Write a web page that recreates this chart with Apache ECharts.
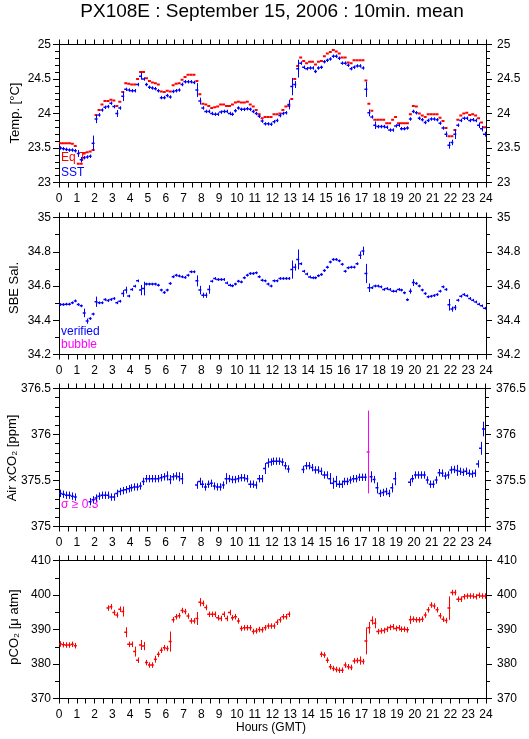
<!DOCTYPE html>
<html><head><meta charset="utf-8">
<script src="https://cdn.jsdelivr.net/npm/echarts@6/dist/echarts.min.js"></script>
<style>html,body{margin:0;padding:0;background:#fff}#c{width:529px;height:739px}</style>
</head><body><div id="c"></div>
<script>
// ---- DATA (10-minute means, index i covers hour i/6 .. (i+1)/6) ----
var hourTicks = [0,1,2,3,4,5,6,7,8,9,10,11,12,13,14,15,16,17,18,19,20,21,22,23,24];

var eqT = [
 23.57,23.57,23.57,23.57,23.56,23.53, 23.27,23.27,23.42,23.44,23.45,23.47,
 23.98,24.05,24.13,24.18,24.18,24.20, 24.19,24.11,24.17,24.31,24.44,24.43,
 24.42,24.42,24.50,24.60,24.60,24.51, 24.47,24.45,24.44,24.42,24.32,24.31,
 24.33,24.32,24.41,24.43,24.44,24.49, 24.53,24.56,24.56,24.56,24.47,24.28,
 24.14,24.13,24.11,24.08,24.09,24.10, 24.13,24.13,24.11,24.11,24.13,24.16,
 24.17,24.16,24.16,24.17,24.13,24.10, 24.05,23.99,23.93,23.95,23.95,23.95,
 23.99,23.99,24.00,24.05,24.10,24.11, 24.21,24.50,24.69,24.81,24.76,24.73,
 24.75,24.75,24.71,24.75,24.76,24.83, 24.87,24.89,24.92,24.90,24.87,24.81,
 24.81,24.74,24.73,24.77,24.77,24.77, 24.77,24.48,24.14,24.04,23.91,23.91,
 23.91,23.91,23.86,23.86,23.91,23.95, 23.86,23.86,23.86,23.86,23.99,24.11,
 24.10,24.00,23.97,23.95,23.99,23.99, 23.99,23.99,23.94,23.89,23.79,23.67,
 23.67,23.76,23.91,23.97,24.00,24.01, 23.98,23.99,23.97,23.93,23.87,23.80];
var eqTErrDefault = 0.004;
var eqTErrBig = [];

var sst = [
 23.50,23.49,23.48,23.47,23.47,23.46, 23.42,23.33,23.36,23.37,23.38,23.57,
 23.92,23.98,24.05,24.09,24.10,24.15, 24.10,24.00,24.08,24.25,24.35,24.34,
 24.33,24.33,24.42,24.54,24.50,24.42, 24.38,24.37,24.36,24.33,24.23,24.23,
 24.26,24.24,24.32,24.33,24.34,24.42, 24.46,24.46,24.46,24.45,24.34,24.18,
 24.08,24.03,24.03,24.00,23.99,23.99, 24.02,24.03,24.03,24.00,23.99,24.04,
 24.08,24.06,24.06,24.07,24.06,24.03, 24.00,23.96,23.89,23.85,23.85,23.845,
 23.88,23.90,23.97,24.00,24.01,24.13, 24.39,24.42,24.65,24.73,24.67,24.65,
 24.66,24.66,24.61,24.66,24.67,24.75, 24.77,24.79,24.83,24.83,24.80,24.73,
 24.73,24.70,24.65,24.67,24.69,24.69, 24.66,24.35,24.01,23.95,23.83,23.81,
 23.81,23.81,23.80,23.76,23.76,23.82, 23.83,23.78,23.78,23.79,23.92,24.03,
 24.01,23.93,23.91,23.87,23.90,23.92, 23.92,23.91,23.86,23.79,23.70,23.54,
 23.58,23.70,23.83,23.90,23.93,23.93, 23.90,23.91,23.90,23.83,23.78,23.70];
var sstErrDefault = 0.025;
var sstErrBig = [[6,0.05],[7,0.04],[11,0.11],[12,0.06],[19,0.05],[21,0.07],[27,0.05],[46,0.1],[47,0.05],
 [77,0.07],[78,0.126],[79,0.05],[80,0.13],[103,0.11],[104,0.05],[106,0.055],[130,0.04],[131,0.05],
 [132,0.04],[133,0.07],[141,0.04],[142,0.04],[143,0.035]];

var sal = [
 34.492,34.492,34.494,34.494,34.502,34.513, 34.492,34.484,34.443,34.395,34.410,34.436,
 34.508,34.502,34.502,34.521,34.515,34.521, 34.527,34.502,34.511,34.556,34.576,34.541,
 34.580,34.599,34.630,34.576,34.585,34.611, 34.611,34.611,34.611,34.605,34.576,34.562,
 34.576,34.615,34.654,34.663,34.659,34.654, 34.650,34.663,34.683,34.683,34.630,34.576,
 34.546,34.546,34.580,34.628,34.644,34.638, 34.638,34.638,34.618,34.605,34.601,34.611,
 34.628,34.624,34.648,34.663,34.673,34.673, 34.677,34.654,34.634,34.630,34.611,34.600,
 34.630,34.630,34.644,34.644,34.644,34.644, 34.696,34.710,34.755,34.730,34.686,34.670,
 34.653,34.648,34.648,34.660,34.667,34.690, 34.710,34.740,34.755,34.755,34.747,34.727,
 34.686,34.706,34.710,34.710,34.730,34.780, 34.805,34.673,34.590,34.590,34.600,34.600,
 34.595,34.580,34.585,34.580,34.570,34.570, 34.580,34.576,34.560,34.520,34.570,34.620,
 34.615,34.600,34.576,34.556,34.537,34.540, 34.544,34.550,34.570,34.595,34.580,34.490,
 34.465,34.474,34.517,34.540,34.550,34.543, 34.527,34.517,34.507,34.494,34.484,34.470];
var salErrDefault = 0.008;
var salErrBig = [[8,0.025],[9,0.015],[12,0.03],[21,0.02],[22,0.02],[27,0.03],[28,0.04],[46,0.032],
 [47,0.025],[48,0.015],[49,0.015],[50,0.025],[78,0.053],[79,0.02],[80,0.058],[101,0.022],[102,0.025],
 [103,0.056],[104,0.025],[118,0.015],[119,0.02],[131,0.034],[132,0.015],[133,0.015]];

var airCO2 = [
 375.36,375.35,375.34,375.34,375.33,375.32, null,null,null,null,375.27,375.29,
 375.31,375.33,375.34,375.34,375.34,375.32, 375.32,375.36,375.38,375.39,375.40,375.41,
 375.42,375.43,375.43,375.44,375.49,375.52, 375.52,375.52,375.52,375.52,375.53,375.54,
 375.55,375.51,375.54,375.55,375.54,375.52, null,null,null,null,375.45,375.49,
 375.46,375.43,375.46,375.47,375.44,375.43, 375.43,375.45,375.52,375.52,375.51,375.51,
 375.52,375.53,375.53,375.52,375.46,375.46, 375.45,375.52,375.52,375.63,375.69,375.70,
 375.71,375.71,375.71,375.70,375.66,375.625, null,null,null,null,375.62,375.66,
 375.66,375.64,375.615,375.615,375.60,375.56, 375.56,375.52,375.47,375.49,375.46,375.46,
 375.49,375.49,375.505,375.52,375.52,375.535, 375.535,375.535,375.81,375.54,375.51,375.42,
 375.36,375.37,375.38,375.36,375.42,375.52, null,null,null,null,375.48,375.52,
 375.56,375.56,375.56,375.56,375.505,375.46, 375.46,375.505,375.585,375.58,375.55,375.56,
 375.615,375.62,375.61,375.60,375.59,375.60, 375.58,375.57,375.58,375.68,375.85,376.06];
var airErrDefault = 0.04;
var airErrBig = [[36,0.05],[37,0.05],[40,0.05],[41,0.06],[56,0.06],[69,0.06],[70,0.05],[91,0.06],
 [92,0.06],[93,0.06],[104,0.45],[105,0.06],[107,0.06],[112,0.05],[113,0.072],[134,0.06],[142,0.07],[143,0.08]];

var pCO2 = [
 385.8,385.6,385.5,385.5,385.7,385.3, null,null,null,null,null,null,
 null,null,null,null,396.2,396.6, 394.9,394.2,395.9,395.2,389.2,385.7,
 385.7,383.6,381.1,385.5,385.2,380.4, 379.7,379.7,381.4,382.8,384.0,384.7,
 384.5,386.5,392.8,393.7,394.0,395.5, 395.2,393.9,392.5,392.5,393.2,397.9,
 397.6,396.4,394.4,394.4,394.4,393.4, 393.2,394.4,393.2,394.9,393.4,393.7,
 392.5,390.3,390.5,390.5,390.5,389.4, 389.6,390.0,389.9,390.5,391.0,391.0,
 391.0,392.1,392.8,393.7,393.7,394.4, null,null,null,null,null,null,
 null,null,null,null,382.8,382.6, 381.1,379.2,378.7,378.4,378.2,378.2,
 379.7,379.2,379.0,380.9,381.0,381.0, 380.7,386.7,390.5,392.6,391.8,389.4,
 389.6,389.7,390.1,390.6,390.8,390.3, 390.5,390.1,390.1,389.9,392.8,393.0,
 392.8,392.8,393.0,394.2,395.7,397.1, 396.8,395.7,394.0,393.0,392.6,396.2,
 400.7,400.7,398.8,398.8,399.5,399.7, 399.7,399.7,399.5,399.9,399.7,399.7];
var pco2ErrDefault = 0.8;
var pco2ErrBig = [[21,1.45],[22,1.45],[25,1.45],[27,1.45],[28,1.2],[32,1.0],[37,2.9],[46,1.9],[47,1.2],
 [101,1.2],[103,3.9],[104,1.7],[105,1.2],[106,1.45],[118,1.2],[131,3.4]];

// ---- BUILD ----
var FONT = '"Liberation Sans", Arial, sans-serif';
var BLUE = '#0000ff', RED = '#ff0000', MAG = '#ff00ff';

function buildData(vals, errDef, errBig) {
  var big = {};
  errBig.forEach(function (p) { big[p[0]] = p[1]; });
  var out = [];
  vals.forEach(function (v, i) {
    if (v == null) return;
    out.push([(i + 0.5) / 6, v, big[i] != null ? big[i] : errDef]);
  });
  return out;
}

function makeRender(color, lwH, lwV, thresh) {
  return function (params, api) {
    var t = api.value(0), v = api.value(1), sd = api.value(2);
    var p0 = api.coord([t - 1 / 12, v]), p1 = api.coord([t + 1 / 12, v]);
    var pt = api.coord([t, v + sd]), pb = api.coord([t, v - sd]);
    var c = (thresh != null && sd >= thresh) ? MAG : color;
    var xc = Math.round(pt[0]) + 0.5;
    return { type: 'group', children: [
      { type: 'line', shape: { x1: p0[0], y1: p0[1], x2: p1[0], y2: p1[1] }, style: { stroke: c, lineWidth: lwH } },
      { type: 'line', shape: { x1: xc, y1: pt[1], x2: xc, y2: pb[1] }, style: { stroke: c, lineWidth: lwV } }
    ]};
  };
}

var panels = [
  { top: 44.5, h: 138, min: 23, max: 25, interval: 0.5, minor: 5 },
  { top: 217.5, h: 137, min: 34.2, max: 35, interval: 0.2, minor: 2 },
  { top: 388.5, h: 138, min: 375, max: 376.5, interval: 0.5, minor: 5 },
  { top: 560.5, h: 138, min: 370, max: 410, interval: 10, minor: 2 }
];

var grids = [], xAxes = [], yAxes = [];
var lbl = { color: '#000', fontSize: 12, fontFamily: FONT };
panels.forEach(function (p, k) {
  grids.push({ left: 59, right: 43, top: p.top, height: p.h, containLabel: false });
  var xBase = { type: 'value', gridIndex: k, min: 0, max: 24, interval: 0.5,
    axisLine: { show: true, onZero: false, lineStyle: { color: '#000', width: 1 } },
    axisTick: { show: true, length: 5, lineStyle: { color: '#000', width: 1 } },
    splitLine: { show: false } };
  xAxes.push(Object.assign({}, xBase, { position: 'bottom',
    axisLabel: Object.assign({ margin: 10, formatter: function (v) { return (hourTicks.indexOf(v) >= 0) ? String(v) : ''; } }, lbl) }));
  xAxes.push(Object.assign({}, xBase, { position: 'top', axisLabel: { show: false } }));
  var yBase = { type: 'value', gridIndex: k, min: p.min, max: p.max, interval: p.interval,
    axisLine: { show: true, onZero: false, lineStyle: { color: '#000', width: 1 } },
    axisTick: { show: true, length: 6, lineStyle: { color: '#000', width: 1 } },
    minorTick: { show: true, splitNumber: p.minor, length: 4, lineStyle: { color: '#000', width: 1 } },
    splitLine: { show: false }, minorSplitLine: { show: false } };
  yAxes.push(Object.assign({}, yBase, { position: 'left', axisLabel: Object.assign({ margin: 8 }, lbl) }));
  yAxes.push(Object.assign({}, yBase, { position: 'right', axisLabel: Object.assign({ margin: 11 }, lbl) }));
});

function ser(k, data, color, lwH, lwV, thresh) {
  return { type: 'custom', xAxisIndex: 2 * k, yAxisIndex: 2 * k, clip: true,
    encode: { x: 0, y: 1 }, data: data, renderItem: makeRender(color, lwH, lwV, thresh), silent: true, animation: false };
}

var series = [
  ser(0, buildData(eqT, eqTErrDefault, eqTErrBig), RED, 2, 1, null),
  ser(0, buildData(sst, sstErrDefault, sstErrBig), BLUE, 1.5, 1, null),
  ser(1, buildData(sal, salErrDefault, salErrBig), BLUE, 1.5, 1, 0.3),
  ser(2, buildData(airCO2, airErrDefault, airErrBig), BLUE, 1.5, 1, 0.3),
  ser(3, buildData(pCO2, pco2ErrDefault, pco2ErrBig), RED, 1.5, 1, null)
];

function txt(s, x, y, color, size, rot, align) {
  return { type: 'text', x: x, y: y, rotation: rot || 0, silent: true,
    style: { text: s, fill: color, font: size + 'px ' + FONT, textAlign: align || 'left', textVerticalAlign: 'middle', align: align || 'left', verticalAlign: 'middle' } };
}

var graphics = [
  txt('PX108E : September 15, 2006 : 10min. mean', 272, 12, '#000', 19, 0, 'center'),
  txt('Temp. [°C]', 15, 113, '#000', 13, Math.PI / 2, 'center'),
  txt('SBE Sal.', 14, 288, '#000', 13, Math.PI / 2, 'center'),
  txt('Air xCO₂ [ppm]', 12, 458, '#000', 13, Math.PI / 2, 'center'),
  txt('pCO₂ [μ atm]', 14, 627, '#000', 13, Math.PI / 2, 'center'),
  txt('Hours (GMT)', 271, 728, '#000', 12, 0, 'center'),
  txt('Eq T', 61, 158, RED, 12),
  txt('SST', 61, 173, BLUE, 12),
  txt('verified', 61, 332, BLUE, 12),
  txt('bubble', 61, 345, MAG, 12),
  txt('σ ≥ 0.3', 61, 505, MAG, 12)
];

var chart = echarts.init(document.getElementById('c'), null, { renderer: 'canvas' });
chart.setOption({
  animation: false,
  backgroundColor: '#fff',
  grid: grids, xAxis: xAxes, yAxis: yAxes, series: series, graphic: graphics
});
</script>
</body></html>
